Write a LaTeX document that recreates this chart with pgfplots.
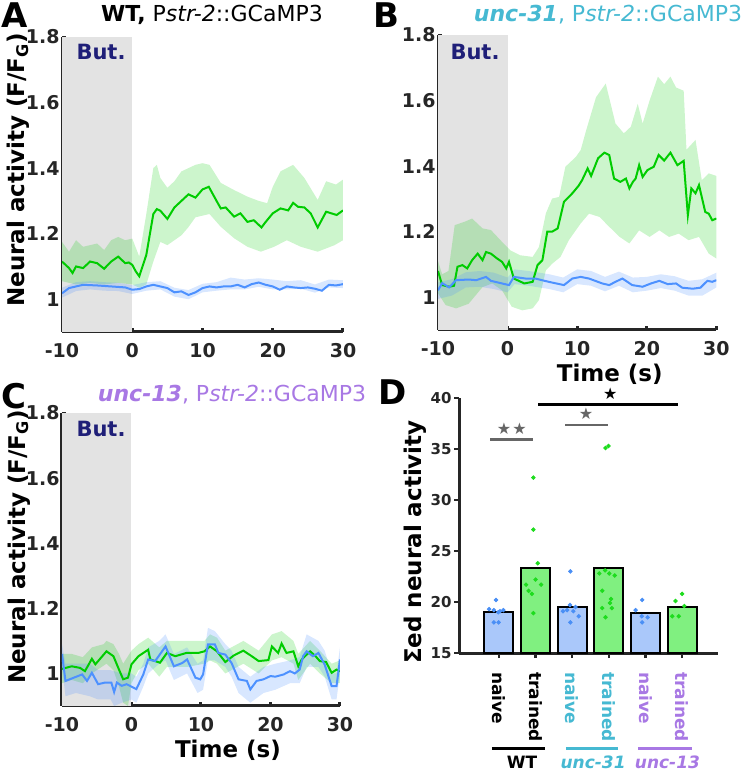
\documentclass[border=0pt]{standalone}
\usepackage{pgfplots}
\pgfplotsset{compat=1.18}
\usepackage{fontspec}
\setmainfont{DejaVu Sans}
\definecolor{lgreen}{HTML}{00CC00}
\definecolor{lblue}{HTML}{4D91FF}
\definecolor{axgray}{HTML}{262626}
\definecolor{shade}{HTML}{E3E3E3}
\definecolor{navy}{HTML}{1F1F78}
\definecolor{teal31}{HTML}{46B9D2}
\definecolor{purp13}{HTML}{A878E4}
\definecolor{barblue}{HTML}{AAC8FA}
\definecolor{bargreen}{HTML}{80F080}
\definecolor{dotblue}{HTML}{4A8FF5}
\definecolor{dotgreen}{HTML}{1EDC1E}
\definecolor{sgray}{HTML}{666666}
\pgfplotsset{
 ts/.style={
  scale only axis,
  xmin=-10,xmax=30,ymin=0.9,ymax=1.8,
  axis x line*=bottom, axis y line*=left,
  axis line style={line width=1.5pt, draw=axgray},
  xtick={-10,0,10,20,30}, ytick={1,1.2,1.4,1.6,1.8},
  tick align=inside, major tick length=2pt,
  tick style={line width=1.5pt, draw=axgray},
  tick label style={font=\bfseries\fontsize{9.5}{10}\selectfont, text=axgray, inner sep=1pt},
  xticklabel style={yshift=-4.5pt},
  /pgf/number format/assume math mode=true,
  label style={font=\bfseries\fontsize{11.5}{12}\selectfont, text=black},
 },
 gband/.style={fill=lgreen, fill opacity=0.2, draw=none},
 bband/.style={fill=lblue, fill opacity=0.22, draw=none},
 gline/.style={lgreen, line width=1pt},
 bline/.style={lblue, line width=1pt},
}
\begin{document}
\begin{tikzpicture}
\path[use as bounding box] (0pt,0pt) rectangle (373.5pt,386pt);
%================ Panel A
\begin{axis}[ts, at={(31pt,220pt)}, anchor=south west, width=140.5pt, height=147.5pt,
  ylabel={Neural activity (F/F\textsubscript{G})},
  ylabel style={at={(axis description cs:-0.155,0.55)}, anchor=center}]
\addplot[fill=shade, draw=none] coordinates {(-10,0.9) (-10,1.8) (0,1.8) (0,0.9)};
\addplot[gband] coordinates {(-10,1.175) (-9,1.145) (-8,1.18) (-7,1.16) (-6,1.165) (-5,1.17) (-4,1.15) (-3,1.18) (-2,1.19) (-1,1.18) (0,1.185) (1,1.13) (2,1.26) (3,1.40) (3.5,1.41) (4,1.37) (5,1.34) (6,1.36) (7,1.39) (8,1.40) (9,1.41) (10,1.415) (11,1.41) (12.6,1.355) (14.5,1.333) (16.4,1.313) (18,1.30) (19.2,1.293) (20,1.343) (21.1,1.39) (22.9,1.41) (24.5,1.37) (26.4,1.303) (27.6,1.36) (29,1.35) (30,1.365)
 (30,1.18) (28.8,1.165) (26.4,1.145) (24,1.16) (22,1.18) (20.2,1.16) (18.3,1.145) (16.4,1.16) (14.5,1.186) (12.6,1.221) (11,1.26) (10,1.255) (9,1.25) (8,1.22) (7,1.195) (6,1.18) (5,1.165) (4,1.175) (3,1.115) (2,1.045) (1,1.035) (0,1.045) (-2,1.05) (-4,1.045) (-6,1.05) (-8,1.045) (-9,1.05) (-10,1.055)};
\addplot[bband] coordinates {(-10,1.035) (-8,1.052) (-6,1.055) (-4,1.052) (-2,1.05) (0,1.043) (2,1.052) (4,1.055) (6,1.035) (8,1.028) (10,1.047) (12,1.052) (14,1.066) (16,1.06) (18,1.064) (20,1.06) (22,1.055) (24,1.058) (26,1.045) (28,1.06) (30,1.058)
 (30,1.034) (28,1.036) (26,1.02) (24,1.032) (22,1.03) (20,1.03) (18,1.038) (16,1.03) (14,1.03) (12,1.026) (10,1.021) (8,1.0) (6,1.008) (4,1.03) (2,1.026) (0,1.016) (-2,1.025) (-4,1.026) (-6,1.03) (-8,1.025) (-10,1.005)};
\addplot[gline] coordinates {(-10,1.115) (-9,1.095) (-8.5,1.08) (-8,1.10) (-7,1.095) (-6,1.115) (-5,1.11) (-4,1.093) (-3,1.115) (-2,1.13) (-1,1.11) (-0.5,1.112) (0,1.105) (0.5,1.085) (1,1.07) (2,1.135) (3,1.26) (3.5,1.275) (4,1.27) (5,1.245) (6,1.28) (7,1.30) (8,1.32) (9,1.31) (10,1.335) (10.9,1.343) (12,1.30) (12.6,1.277) (13.3,1.28) (14.5,1.252) (15.4,1.262) (16.4,1.236) (17.3,1.241) (18.4,1.219) (19,1.236) (20,1.262) (21.1,1.277) (22.2,1.271) (22.9,1.294) (23.6,1.282) (24.5,1.28) (25.4,1.262) (26.4,1.219) (27.6,1.267) (29.1,1.257) (30,1.271)};
\addplot[bline] coordinates {(-10,1.018) (-9,1.034) (-8,1.039) (-7,1.044) (-5,1.042) (-3,1.039) (-1,1.036) (0,1.029) (1,1.031) (2,1.039) (3,1.044) (4,1.039) (5,1.034) (6,1.021) (7,1.024) (8,1.013) (9,1.021) (10,1.034) (11,1.039) (12,1.036) (13,1.039) (14,1.039) (15,1.044) (16,1.036) (17,1.046) (18,1.051) (19,1.044) (20,1.039) (21,1.029) (22,1.039) (23,1.036) (24,1.034) (25,1.036) (26,1.032) (27,1.026) (28,1.044) (29,1.042) (30,1.046)};
\end{axis}
%================ Panel B
\begin{axis}[ts, at={(219pt,221pt)}, anchor=south west, width=139.2pt, height=147.5pt,
  xlabel={Time (s)},
  xlabel style={at={(axis description cs:0.617,-0.149)}, anchor=center}]
\addplot[fill=shade, draw=none] coordinates {(-10,0.9) (-10,1.8) (0,1.8) (0,0.9)};
\addplot[gband] coordinates {(-10,1.11) (-9.4,1.07) (-8.5,1.08) (-7.6,1.22) (-6.2,1.23) (-5.1,1.24) (-3.6,1.21) (-2.4,1.205) (-0.8,1.169) (0.4,1.143) (1.8,1.128) (3.6,1.123) (4.5,1.153) (5.5,1.256) (6.4,1.301) (7.4,1.306) (8.3,1.398) (9.8,1.428) (10.5,1.449) (11.3,1.51) (12.7,1.61) (14.1,1.652) (15.5,1.53) (16.7,1.50) (17.7,1.52) (18.7,1.59) (19.4,1.53) (20.4,1.60) (21.6,1.673) (22.5,1.65) (23.4,1.673) (24.2,1.64) (25.3,1.63) (25.7,1.45) (27,1.48) (27.9,1.357) (28.9,1.378) (30,1.37)
 (30,1.118) (28.9,1.133) (27.5,1.184) (26,1.174) (24.6,1.194) (23.2,1.184) (21.8,1.204) (20.4,1.184) (18.9,1.204) (17.5,1.164) (16.1,1.184) (14.6,1.215) (13.2,1.245) (11.7,1.255) (10.5,1.225) (8.8,1.174) (7.6,1.123) (6.4,1.102) (5.5,1.082) (4.5,0.991) (3.6,0.966) (2.1,0.96) (0.6,0.971) (-0.8,1.021) (-2.2,1.042) (-3.6,1.031) (-5.6,0.98) (-7.4,0.966) (-8.9,0.976) (-10,1.012)};
\addplot[bband] coordinates {(-10,1.045) (-8,1.055) (-6,1.076) (-4,1.08) (-2,1.075) (0,1.06) (1,1.085) (3,1.08) (6,1.07) (8,1.06) (10,1.085) (12,1.08) (14,1.062) (16,1.078) (18,1.06) (20,1.062) (22,1.07) (24,1.064) (26,1.05) (28,1.055) (30,1.075)
 (30,1.03) (28,1.005) (26,1.005) (24,1.02) (22,1.028) (20,1.02) (18,1.015) (16,1.035) (14,1.018) (12,1.035) (10,1.04) (8,1.015) (6,1.025) (3,1.035) (1,1.04) (0,1.015) (-2,1.025) (-4,1.032) (-6,1.03) (-8,1.005) (-10,0.995)};
\addplot[gline] coordinates {(-10,1.08) (-9.4,1.037) (-8.4,1.032) (-7.7,1.035) (-7.2,1.093) (-6.5,1.098) (-5.8,1.088) (-5.1,1.113) (-4.3,1.133) (-3.6,1.113) (-3.1,1.138) (-2.4,1.133) (-1.5,1.118) (-0.8,1.108) (-0.2,1.088) (0.2,1.108) (0.9,1.057) (2.4,1.042) (3.6,1.047) (4.3,1.098) (5.0,1.113) (5.7,1.2) (6.4,1.2) (7.2,1.21) (8.1,1.291) (9.3,1.317) (10.2,1.34) (10.7,1.357) (11.5,1.393) (12.0,1.37) (13.0,1.424) (13.9,1.441) (14.6,1.434) (15.3,1.362) (16.2,1.352) (17.0,1.362) (17.5,1.332) (18.0,1.352) (18.4,1.362) (18.9,1.403) (19.4,1.367) (20.1,1.388) (21.0,1.398) (21.7,1.434) (22.5,1.417) (23.4,1.441) (24.4,1.403) (25.3,1.416) (25.9,1.25) (26.4,1.332) (27.0,1.317) (27.5,1.342) (28.4,1.26) (28.9,1.255) (29.4,1.235) (30,1.24)};
\addplot[bline] coordinates {(-10,1.021) (-9.4,1.043) (-8.4,1.03) (-7.4,1.052) (-5.6,1.054) (-4.5,1.052) (-3.1,1.062) (-2.4,1.05) (-0.8,1.042) (0.2,1.037) (0.9,1.062) (2.6,1.057) (4.0,1.057) (5.9,1.047) (8.1,1.037) (9.3,1.057) (10.5,1.062) (11.7,1.057) (13.6,1.042) (14.6,1.037) (15.5,1.047) (16.5,1.057) (17.9,1.037) (19.4,1.032) (20.6,1.042) (21.8,1.05) (23,1.04) (24.2,1.042) (25.1,1.029) (26.6,1.026) (27.7,1.029) (28.7,1.05) (29.4,1.047) (30,1.052)};
\end{axis}
%================ Panel C
\begin{axis}[ts, at={(31pt,33pt)}, anchor=south west, width=139pt, height=146.5pt,
  ylabel={Neural activity (F/F\textsubscript{G})},
  ylabel style={at={(axis description cs:-0.155,0.543)}, anchor=center},
  xlabel={Time (s)},
  xlabel style={at={(axis description cs:0.597,-0.15)}, anchor=center}]
\addplot[fill=shade, draw=none] coordinates {(-10,0.9) (-10,1.8) (0,1.8) (0,0.9)};
\addplot[gband] coordinates {(-10,1.06) (-8.6,1.06) (-7,1.05) (-5.7,1.08) (-4,1.09) (-3.6,1.10) (-2.6,1.09) (-1.8,1.06) (-1.2,1.03) (0,1.07) (1,1.09) (2.4,1.11) (4,1.08) (5.1,1.10) (8,1.10) (10.5,1.10) (11.3,1.12) (12.3,1.11) (13.5,1.07) (16.1,1.10) (18.3,1.07) (20.2,1.12) (21.6,1.13) (23.3,1.10) (24,1.06) (25.7,1.10) (27.1,1.07) (28.8,1.03) (30,1.04)
 (30,0.97) (28.8,0.97) (27.1,1.00) (25.7,1.03) (24,0.98) (23.3,1.03) (21.6,1.05) (20.2,1.04) (18.3,1.00) (16.1,1.03) (13.5,1.00) (12.3,1.03) (11.3,1.04) (10.5,1.03) (8,1.02) (5.1,1.02) (4,0.99) (2.4,1.03) (1,1.01) (0,0.97) (-0.5,0.90) (-1.2,0.91) (-1.8,0.96) (-2.6,1.01) (-3.6,1.03) (-5.7,1.00) (-7,0.97) (-8.6,0.98) (-10,0.97)};
\addplot[bband] coordinates {(-10,1.09) (-9.5,1.03) (-8,1.03) (-6,1.03) (-4.8,1.01) (-3,1.01) (-1.4,1.0) (0,1.0) (0.7,0.99) (1.7,1.03) (2.4,1.08) (4,1.10) (4.9,1.12) (6.1,1.06) (8,1.08) (9.5,1.03) (10.3,1.04) (11,1.14) (12,1.13) (13.5,1.09) (14.4,1.07) (15.4,1.02) (17.1,0.99) (19,1.02) (20.7,1.03) (22.8,1.04) (24.2,1.05) (25.2,1.12) (26.9,1.10) (27.8,1.07) (28.8,1.00) (29.5,1.00) (30,1.08)
 (30,1.00) (29.5,0.92) (28.8,0.92) (27.8,0.99) (26.9,1.02) (25.2,1.02) (24.2,0.97) (22.8,0.97) (20.7,0.95) (19,0.94) (17.1,0.91) (15.4,0.94) (14.4,0.99) (13.5,1.02) (12,1.04) (11,1.04) (10.3,0.95) (9.5,0.94) (8,1.00) (6.1,0.98) (4.9,1.04) (4,1.03) (2.4,1.00) (1.7,0.96) (0.7,0.91) (0,0.92) (-1.4,0.91) (-2.5,0.90) (-3,0.92) (-4.8,0.92) (-6,0.93) (-8,0.94) (-9.5,0.93) (-10,1.02)};
\addplot[gline] coordinates {(-10,1.014) (-8.6,1.022) (-7.4,1.017) (-6.7,1.007) (-5.7,1.045) (-5.2,1.028) (-3.6,1.068) (-2.6,1.053) (-1.8,1.012) (-1.2,0.982) (-0.5,0.987) (0,1.028) (1.0,1.053) (2.4,1.073) (2.7,1.043) (4.1,1.033) (5.1,1.063) (6.3,1.053) (7.9,1.063) (9.6,1.063) (10.5,1.068) (11.3,1.083) (12.3,1.068) (13.5,1.035) (14.7,1.055) (16.1,1.07) (17.3,1.053) (18.3,1.038) (19.7,1.041) (20.2,1.083) (21.1,1.063) (21.6,1.092) (22.3,1.063) (23.3,1.068) (24,1.022) (24.5,1.043) (25.7,1.068) (26.4,1.055) (27.1,1.038) (28,1.035) (28.8,1.002) (29.5,1.012) (30,1.007)};
\addplot[bline] coordinates {(-10,1.06) (-9.5,0.977) (-8.3,0.987) (-7.1,0.997) (-6.4,0.977) (-5.7,1.002) (-4.8,0.967) (-3.8,0.972) (-2.9,0.972) (-2.5,0.943) (-2.1,0.972) (-1.4,0.962) (-0.7,0.967) (0.7,0.952) (1.7,0.997) (2.4,1.043) (3.4,1.038) (4.4,1.068) (4.9,1.083) (6.1,1.022) (7.3,1.032) (8.0,1.043) (9.2,0.987) (9.9,0.982) (10.3,0.997) (11.0,1.089) (12,1.089) (12.5,1.063) (13.5,1.058) (14.4,1.032) (15.4,0.982) (16.6,0.977) (17.1,0.951) (18,0.977) (19,0.982) (20,0.992) (20.7,0.99) (21.9,0.997) (22.8,1.007) (23.5,1.0) (24.2,1.012) (24.7,1.053) (25.2,1.068) (26.1,1.053) (26.9,1.063) (27.8,1.027) (28.8,0.961) (29.5,0.961) (30,1.043)};
\end{axis}
%================ Panel D
\begin{axis}[at={(229.5pt,59.5pt)}, anchor=south west, scale only axis, width=129.5pt, height=127.5pt,
  xmin=-0.09, xmax=6.98, ymin=15, ymax=40,
  axis x line*=bottom, axis y line*=left,
  axis line style={line width=1.5pt, draw=axgray},
  tick align=outside, major tick length=2.5pt,
  tick style={line width=1.2pt, draw=axgray},
  xtick={1,2,3,4,5,6},
  xticklabels={naive,trained,\textcolor{teal31}{naive},\textcolor{teal31}{trained},\textcolor{purp13}{naive},\textcolor{purp13}{trained}},
  ytick={15,20,25,30,35,40},
  yticklabel style={font=\bfseries\fontsize{7.5}{8}\selectfont, text=axgray, inner sep=1pt},
  xticklabel style={font=\bfseries\fontsize{8.5}{9}\selectfont, rotate=-90, anchor=west, inner sep=1pt, xshift=6pt},
  /pgf/number format/assume math mode=true,
  ylabel={Σed neural activity},
  ylabel style={font=\bfseries\fontsize{11.5}{12}\selectfont, at={(axis description cs:-0.17,0.435)}, anchor=center},
  clip mode=individual,
  ybar, bar width=0.79, bar shift=0pt]
\addplot[fill=barblue, draw=black, line width=1pt] coordinates {(1,18.99) (3,19.48) (5,18.92)};
\addplot[fill=bargreen, draw=black, line width=1pt] coordinates {(2,23.3) (4,23.33) (6,19.54)};
\addplot[only marks, mark=*, mark size=0.9pt, color=dotblue] coordinates {(0.92,20.2) (0.73,19.3) (0.86,19.2) (1.03,19.1) (1.12,19.2) (0.98,19.0) (0.86,18.0) (0.99,18.0) (2.95,23.0) (2.94,19.7) (3.09,19.5) (2.75,19.1) (2.86,19.2) (3.03,19.1) (3.18,18.6) (2.95,18.0) (4.91,20.2) (4.73,19.2) (4.9,18.6) (5.06,18.5) (4.91,18.0)};
\addplot[only marks, mark=*, mark size=0.9pt, color=dotgreen] coordinates {(1.94,32.2) (1.94,27.1) (2.06,23.8) (2.0,22.2) (1.74,21.7) (2.15,21.7) (1.81,21.1) (1.9,20.8) (1.94,18.9) (3.91,35.1) (3.99,35.3) (3.74,22.8) (3.9,23.1) (4.01,22.8) (4.16,22.6) (3.82,21.1) (4.06,20.3) (3.82,19.4) (4.03,19.9) (4.08,19.4) (3.91,18.5) (6.0,20.8) (5.82,20.1) (6.06,19.6) (5.73,18.6) (5.91,18.6)};
\draw[line width=1.35pt, sgray] (axis cs:0.76,35.9) -- (axis cs:1.93,35.9);
\node[text=sgray, font=\fontsize{8}{8}\selectfont] at (axis cs:1.14,37.0) {★};
\node[text=sgray, font=\fontsize{8}{8}\selectfont] at (axis cs:1.56,37.0) {★};
\draw[line width=1.35pt, sgray] (axis cs:2.81,37.35) -- (axis cs:3.98,37.35);
\node[text=sgray, font=\fontsize{8}{8}\selectfont] at (axis cs:3.38,38.45) {★};
\draw[line width=1.5pt, black] (axis cs:2.07,39.4) -- (axis cs:5.89,39.4);
\node[text=black, font=\fontsize{8}{8}\selectfont] at (axis cs:4.04,40.4) {★};
\draw[line width=1.5pt, black] (axis cs:0.81,5.6) -- (axis cs:2.26,5.6);
\draw[line width=1.5pt, teal31] (axis cs:2.83,5.6) -- (axis cs:4.25,5.6);
\draw[line width=1.5pt, purp13] (axis cs:4.8,5.6) -- (axis cs:6.28,5.6);
\node[font=\bfseries\fontsize{8.5}{9}\selectfont] at (axis cs:1.63,4.3) {WT};
\node[font=\bfseries\itshape\fontsize{8.5}{9}\selectfont, text=teal31] at (axis cs:3.57,4.3) {unc-31};
\node[font=\bfseries\itshape\fontsize{8.5}{9}\selectfont, text=purp13] at (axis cs:5.6,4.3) {unc-13};
\end{axis}
%================ Texts
\begin{scope}[x=0.5pt,y=0.5pt]
\node[font=\bfseries\fontsize{17}{17}\selectfont] at (15,757) {A};
\node[font=\bfseries\fontsize{17}{17}\selectfont] at (386,757) {B};
\node[font=\bfseries\fontsize{17}{17}\selectfont] at (14,376) {C};
\node[font=\bfseries\fontsize{17}{17}\selectfont] at (393,380) {D};
\node[font=\fontsize{11}{12}\selectfont] at (212,757) {\textbf{WT,} P\textit{str-2}::GCaMP3};
\node[font=\fontsize{11}{12}\selectfont, text=teal31] at (608,757) {\textbf{\textit{unc-31}}, P\textit{str-2}::GCaMP3};
\node[font=\fontsize{11}{12}\selectfont, text=purp13] at (232,377) {\textbf{\textit{unc-13}}, P\textit{str-2}::GCaMP3};
\node[font=\bfseries\fontsize{10.5}{11}\selectfont, text=navy] at (101,720) {But.};
\node[font=\bfseries\fontsize{10.5}{11}\selectfont, text=navy] at (475,720) {But.};
\node[font=\bfseries\fontsize{10.5}{11}\selectfont, text=navy] at (101,343) {But.};
\end{scope}
\end{tikzpicture}
\end{document}
